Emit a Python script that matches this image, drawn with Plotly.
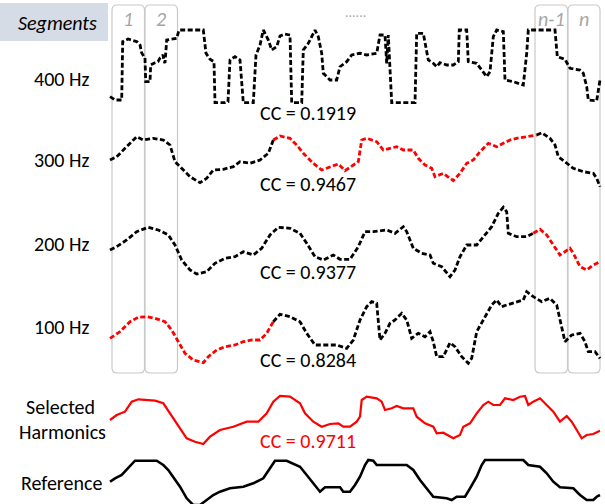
import plotly.graph_objects as go

# ---------------- data (pixel-like units) ----------------
ROW_LABELS = ["400 Hz", "300 Hz", "200 Hz", "100 Hz"]
ROW_LABEL_Y = [79, 160, 244, 327]
CC_TEXT = ["CC = 0.1919", "CC = 0.9467", "CC = 0.9377", "CC = 0.8284", "CC = 0.9711"]
CC_Y = [113, 184, 272, 360, 441]
SEG_LABELS = ["1", "2", "n-1", "n"]
SEG_EDGES = [(112, 144.5), (145, 177.5), (535, 567.5), (568, 600)]

X400 = [110, 115, 121.7, 122.7, 128, 137, 140, 141.7, 145, 145.7, 150, 150.7, 155, 158, 160, 163, 164, 165,
        166.7, 171.7, 176.7, 179, 203.3, 206, 210, 214, 215, 225, 228, 230, 235, 240, 243.3, 253.3, 256, 260,
        263.3, 268.3, 271.7, 276.7, 280, 285, 290, 291.7, 301.7, 303.3, 308.3, 311.7, 315, 318.3, 321.7, 323.3,
        330, 336.7, 340, 346.7, 351.7, 360, 366.7, 376.7, 380, 385, 386.7, 388.3, 390, 391.7, 415, 416.7, 423.3,
        428.3, 433.3, 436.7, 440, 446.7, 453.3, 458.3, 459.3, 466.7, 468.3, 476.7, 481.7, 486.7, 490, 493.3,
        496.7, 503.3, 505, 513.3, 523.3, 526.7, 528.3, 555, 557.3, 565, 570, 580, 583.3, 586.7, 588.3, 596.7, 600]
Y400 = [96.7, 100, 100, 41.7, 39, 41.7, 45, 53, 58, 81.7, 81.7, 65, 62.7, 61.7, 58, 55, 61, 63,
        40, 39.3, 38.3, 30, 30, 53.3, 59.3, 61.7, 102.7, 102.7, 101.7, 60, 56.7, 60, 102.7, 102.7, 55, 45,
        30, 40, 50, 46.7, 36, 34, 35, 102.7, 102.7, 50, 43.3, 36.7, 30, 36.7, 53.3, 73.3,
        80, 80, 66.7, 61.7, 55, 53.3, 55, 53.3, 35, 35, 63.3, 35, 66.7, 102.7, 102.7, 33.3, 33.3,
        60, 63.3, 66.7, 62.7, 65, 65, 61.7, 30, 30, 61.7, 63.3, 70, 76.7, 71.7, 36.7,
        30, 31.7, 80, 81.7, 85, 53.3, 30, 30, 56.7, 59.3, 68.3, 70, 73.3, 86.7, 100, 100.7, 80]

X300 = [110, 116.7, 126.7, 136.7, 143.3, 153.3, 163.3, 170, 175, 183.3, 190, 200, 206.7, 213.3, 223.3, 233.3,
        240, 250, 260, 268.3, 273.3, 280, 290, 296.7, 303.3, 313.3, 321.7, 330, 338.3, 345, 353.3, 358.3,
        361.7, 366.7, 376.7, 383.3, 390, 396.7, 403.3, 413.3, 418.3, 425, 431.7, 435, 443.3, 453.3, 460,
        466.7, 473.3, 480, 488.3, 496.7, 503.3, 510, 516.7, 526.7, 536.7, 541.7, 550, 555, 558.3, 566.7,
        573.3, 583.3, 593.3, 596.7, 600]
Y300 = [160, 156.7, 146.7, 136.7, 140, 138.3, 140, 145, 161.7, 170, 176.7, 182.7, 178.3, 170, 169.3, 166.7,
        161.7, 163.3, 160, 153.3, 140, 136, 138.3, 145, 153.3, 163.3, 170, 166.7, 164, 170.7, 165, 161.7,
        140, 138.3, 141.7, 150, 148.3, 146.7, 150, 150, 158.3, 165, 168.3, 176.7, 173.3, 180.7, 173.3,
        163.3, 160, 151.7, 143.3, 146.7, 143.3, 140, 138.3, 136.7, 135, 132.7, 138.3, 145, 156.7, 163.3,
        168.3, 171.7, 173.3, 178.3, 186.7]
RED300 = (273.3, 536.7)

X200 = [110, 116.7, 126.7, 136.7, 148.3, 158.3, 168.3, 175, 181.7, 190, 196.7, 206.7, 215, 225, 235, 243.3,
        253.3, 261.7, 270, 278.3, 290, 300, 306.7, 315, 323.3, 333.3, 340, 350, 358.3, 365, 373.3, 386.7,
        395, 403.3, 406.7, 413.3, 421.7, 430, 433.3, 441.7, 450, 455, 460, 466.7, 476.7, 483.3, 491.7, 498.3,
        503.3, 506.7, 508.3, 516.7, 526.7, 533.3, 540, 546.7, 553.3, 560, 570, 573.3, 580, 586.7, 593.3, 600]
Y200 = [250, 246.7, 240, 231.7, 227.3, 230, 235, 245, 260, 270, 274, 271.7, 263.3, 258.3, 256.7, 251.7,
        255, 248.3, 235, 227.3, 228.3, 233.3, 243.3, 256.7, 260, 255, 259.3, 259.3, 246.7, 231.7, 231.7, 230,
        233.3, 226.7, 231.7, 248.3, 253.3, 255, 263.3, 266.7, 276.7, 270, 256.7, 245, 245, 236.7, 226.7, 213.3,
        207.3, 211.7, 233.3, 236.7, 236.7, 233.3, 229.3, 235, 245, 255, 248.3, 253.3, 266.7, 270, 265, 261.7]
RED200 = (533.3, 600)

X100 = [110, 120, 130, 138.3, 146.7, 155, 165, 171.7, 178.3, 185, 193.3, 203.3, 208.3, 216.7, 225, 235,
        243.3, 251.7, 260, 266.7, 273.3, 280, 290, 300, 306.7, 315, 326.7, 336.7, 346.7, 353.3, 360, 366.7,
        371.7, 376.7, 380, 385, 390, 395, 401.7, 406.7, 411.7, 418.3, 425, 430, 433.3, 436.7, 443.3, 450,
        455, 461.7, 468.3, 471.7, 476.7, 485, 491.7, 496.7, 501.7, 506.7, 513.3, 518.3, 523.3, 526.7, 533.3,
        541.7, 550, 556.7, 560, 565, 571.7, 580, 585, 588.3, 595, 600]
Y100 = [338.3, 331.7, 321.7, 317.3, 316.7, 318.3, 321.7, 330, 341.7, 353.3, 360, 362.7, 356.7, 350, 346.7, 345,
        341.7, 340, 340, 333.3, 321.7, 314.3, 316.7, 321.7, 333.3, 345, 345, 345, 348.3, 340, 320, 306.7,
        301.7, 303.3, 340, 333.3, 323.3, 320, 313.3, 320, 338.3, 333.3, 336.7, 331.7, 341.7, 356.7, 356.7, 342.7,
        346.7, 356.7, 363.3, 358.3, 331.7, 316.7, 305, 300, 306.7, 305, 303.3, 301.7, 300, 291.7, 296.7,
        301.7, 298.3, 305, 320, 341.7, 335, 333.3, 341.7, 351.7, 351.7, 358.3]
RED100 = (110, 273.3)

XSEL = [110, 116.7, 125, 131.7, 138.3, 146.7, 155, 163.3, 170, 178.3, 186.7, 195, 203.3, 210, 220, 233.3,
        246.7, 258.3, 266.7, 273.3, 280, 290, 296.7, 300, 305, 313.3, 321.7, 330, 338.3, 343.3, 350, 356.7,
        360, 361.7, 366.7, 376.7, 381.7, 385, 391.7, 396.7, 403.3, 413.3, 416.7, 425, 433.3, 436.7, 443.3,
        453.3, 460, 463.3, 470, 476.7, 483.3, 488.3, 493.3, 500, 505, 513.3, 520, 525, 528.3, 533.3, 540,
        546.7, 553.3, 560, 566.7, 571.7, 576.7, 581.7, 586.7, 593.3, 600]
YSEL = [420, 415, 411.7, 401.7, 399.3, 400, 400.7, 403.3, 413.3, 426.7, 438.3, 441.7, 444, 436.7, 430, 426.7,
        421.7, 421.7, 413.3, 401.7, 396, 396.7, 401.7, 403.3, 413.3, 421.7, 426.7, 424, 423.3, 426.7, 426.7, 421.7,
        416.7, 400, 396.7, 398.3, 401.7, 410, 408.3, 406, 408.3, 408.3, 416.7, 423.3, 426.7, 433.3, 432.7,
        438.3, 435, 426.7, 423.3, 413.3, 405, 401.7, 405, 405, 398.3, 400, 396.7, 396, 405, 401.7, 398.3,
        405, 411.7, 421.7, 416, 421.7, 430, 438.3, 435, 434, 430.7]

XREF = [110, 115, 121.7, 126.7, 131.7, 135, 156.7, 163.3, 168.3, 173.3, 180, 186.7, 193.3, 200, 206.7, 213.3,
        220, 230, 243.3, 253.3, 263.3, 270, 275, 286.7, 293.3, 300, 306.7, 313.3, 320, 325, 340, 343.3, 350,
        355, 360, 365, 368.3, 373.3, 376.7, 406.7, 413.3, 420, 426.7, 433.3, 446.7, 451.7, 456.7, 465, 470,
        476.7, 481.7, 485, 523.3, 528.3, 540, 546.7, 553.3, 560, 573.3, 580, 586.7, 593.3, 596.7, 600]
YREF = [481.7, 478.3, 475, 470, 465, 460.7, 460.7, 465, 470, 476.7, 486.7, 498.3, 505, 505, 500, 495,
        491.7, 488.3, 486.7, 483.3, 478.3, 468.3, 460.7, 460.7, 463.3, 466.7, 475, 483.3, 491.7, 487.3, 487.3, 491.7, 491.7,
        485, 476.7, 465, 460, 460.7, 465, 465, 470, 480, 488.3, 496.7, 498.3, 500, 496.7, 496.7, 488.3,
        476.7, 465, 460, 460, 465, 466.7, 473.3, 481.7, 487.3, 488.3, 495, 500, 500, 496.7, 495]

# ---------------- figure ----------------
FONT = "Carlito, Calibri, Lato, sans-serif"
RED = "#ff0000"
DASH = "5px,2.5px"
LW = 2.8
FS = 20
fig = go.Figure()


def dashed(xs, ys, red_span=None):
    if red_span is None:
        fig.add_trace(go.Scatter(x=xs, y=ys, mode="lines",
                                 line=dict(color="black", width=LW, dash=DASH)))
        return
    lo, hi = red_span
    groups = []
    cur_col, cx, cy = None, [], []
    for x, y in zip(xs, ys):
        col = RED if lo <= x < hi or (x == hi and hi == xs[-1]) else "black"
        if cur_col is None:
            cur_col = col
        if col != cur_col:
            cx.append(x); cy.append(y)
            groups.append((cur_col, cx, cy))
            cur_col, cx, cy = col, [x], [y]
        else:
            cx.append(x); cy.append(y)
    groups.append((cur_col, cx, cy))
    for col, gx, gy in groups:
        fig.add_trace(go.Scatter(x=gx, y=gy, mode="lines",
                                 line=dict(color=col, width=LW, dash=DASH)))


dashed(X400, Y400)
dashed(X300, Y300, RED300)
dashed(X200, Y200, RED200)
dashed(X100, Y100, RED100)
fig.add_trace(go.Scatter(x=XSEL, y=YSEL, mode="lines", line=dict(color=RED, width=2.2)))
fig.add_trace(go.Scatter(x=XREF, y=YREF, mode="lines", line=dict(color="black", width=2.6)))

shapes = [dict(type="rect", x0=0, x1=108, y0=3, y1=41, fillcolor="#d6dce5",
               line=dict(width=0), layer="below")]
r, top, bot = 5, 5, 373
for (a, b) in SEG_EDGES:
    path = (f"M{a},{top + r} Q{a},{top} {a + r},{top} L{b - r},{top} Q{b},{top} {b},{top + r} "
            f"L{b},{bot - r} Q{b},{bot} {b - r},{bot} L{a + r},{bot} Q{a},{bot} {a},{bot - r} Z")
    shapes.append(dict(type="path", path=path, line=dict(color="#c9c9c9", width=1.2), layer="below"))

ann = [dict(x=57, y=23, text="<i>Segments</i>", font=dict(size=FS, color="black", family=FONT))]
for (a, b), lab in zip(SEG_EDGES, SEG_LABELS):
    ann.append(dict(x=(a + b) / 2, y=19, text=f"<i>{lab}</i>",
                    font=dict(size=FS, color="#a6a6a6", family=FONT)))
ann.append(dict(x=355, y=12, text="......", font=dict(size=14, color="#a6a6a6", family=FONT)))
for lab, yy in zip(ROW_LABELS, ROW_LABEL_Y):
    ann.append(dict(x=61, y=yy, text=lab, font=dict(size=FS, color="black", family=FONT)))
ann.append(dict(x=60, y=407, text="Selected", font=dict(size=FS, color="black", family=FONT)))
ann.append(dict(x=62, y=432, text="Harmonics", font=dict(size=FS, color="black", family=FONT)))
ann.append(dict(x=61, y=483, text="Reference", font=dict(size=FS, color="black", family=FONT)))
for i, (t, yy) in enumerate(zip(CC_TEXT, CC_Y)):
    ann.append(dict(x=308, y=yy, text=t,
                    font=dict(size=FS, color=RED if i == 4 else "black", family=FONT)))
for a in ann:
    a.update(xref="x", yref="y", showarrow=False, xanchor="center", yanchor="middle")

fig.update_layout(
    width=605, height=504, margin=dict(l=0, r=0, t=0, b=0),
    paper_bgcolor="white", plot_bgcolor="white", showlegend=False,
    xaxis=dict(range=[0, 605], visible=False, fixedrange=True),
    yaxis=dict(range=[504, 0], visible=False, fixedrange=True),
    shapes=shapes, annotations=ann,
)
fig.write_html("out.html", config=dict(displayModeBar=False))
